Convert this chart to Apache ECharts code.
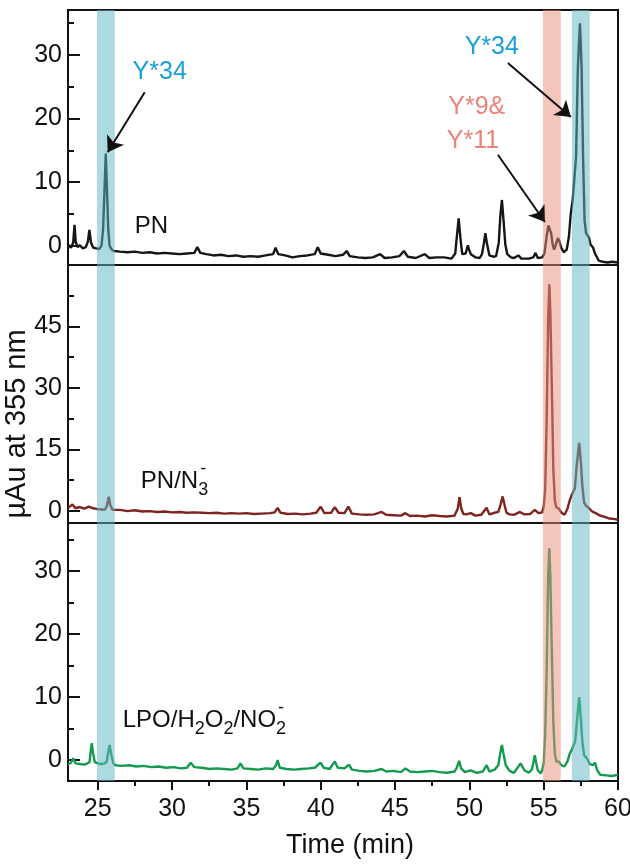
<!DOCTYPE html>
<html>
<head>
<meta charset="utf-8">
<script src="https://cdn.jsdelivr.net/npm/echarts@6/dist/echarts.min.js"></script>
<style>
html,body{margin:0;padding:0;background:#fff;}
#c{width:630px;height:868px;}
</style>
</head>
<body>
<div id="c"></div>
<script>
// ---------- data (time in min, absorbance in µAu) ----------
const X_MIN = 23, X_MAX = 60;
const xMajorTicks = [25, 30, 35, 40, 45, 50, 55, 60];
const xMinorTicks = [27.5, 32.5, 37.5, 42.5, 47.5, 52.5, 57.5];

const yRangePN = [-3, 37];
const yMajorPN = [0, 10, 20, 30];
const yMinorPN = [5, 15, 25, 35];

const yRangeN3 = [-3, 60];
const yMajorN3 = [0, 15, 30, 45];
const yMajorTicksN3 = [0, 15, 30, 45, 60];
const yMinorN3 = [7.5, 22.5, 37.5, 52.5];

const yRangeLPO = [-3.3, 37.6];
const yMajorLPO = [0, 10, 20, 30];
const yMinorLPO = [5, 15, 25, 35];

const bandsBlue = [[24.95, 26.15], [56.9, 58.1]];
const bandsPink = [[54.95, 56.15]];

const tracePN = [[23.0,0.2],[23.2,-0.3],[23.35,0.5],[23.44,3.3],[23.52,0.6],[23.65,-0.2],[23.8,0.1],[24.0,-0.4],[24.2,-0.2],[24.33,0.6],[24.44,2.5],[24.55,0.5],[24.7,-0.3],[24.9,-0.4],[25.1,-0.5],[25.25,0],[25.36,2.5],[25.46,9],[25.54,14.5],[25.62,9],[25.71,2.5],[25.8,0],[25.95,-0.6],[26.1,-0.8],[26.5,-0.9],[27.0,-1.0],[27.5,-0.9],[28.0,-1.1],[28.5,-1.0],[29.0,-1.2],[29.5,-1.1],[30.0,-1.2],[30.5,-1.3],[31.0,-1.2],[31.5,-1.1],[31.7,-0.2],[31.9,-1.1],[32.3,-1.3],[32.8,-1.5],[33.3,-1.4],[33.8,-1.6],[34.3,-1.5],[34.8,-1.7],[35.3,-1.6],[35.8,-1.7],[36.3,-1.5],[36.8,-1.3],[36.96,-0.3],[37.15,-1.3],[37.6,-1.5],[38.1,-1.8],[38.6,-1.6],[39.1,-1.5],[39.6,-1.3],[39.8,-0.2],[40.0,-1.2],[40.5,-1.4],[41.0,-1.6],[41.5,-1.4],[41.75,-0.8],[41.95,-1.6],[42.5,-1.8],[43.0,-1.9],[43.5,-1.8],[44.0,-1.3],[44.3,-1.9],[44.8,-1.8],[45.3,-1.6],[45.6,-0.8],[45.85,-1.7],[46.4,-1.9],[47.0,-1.3],[47.3,-1.9],[47.8,-1.8],[48.3,-1.8],[48.8,-2.0],[49.05,-1.2],[49.16,1.5],[49.28,4.3],[49.4,1.2],[49.52,-1.3],[49.75,-1.2],[49.82,-0.6],[49.9,0.1],[49.98,-0.6],[50.1,-1.3],[50.4,-1.8],[50.7,-1.9],[50.85,-1.3],[50.97,0.3],[51.08,2.0],[51.18,0.4],[51.35,-1.5],[51.6,-1.7],[51.8,-1.6],[51.98,0.5],[52.08,4.5],[52.19,7.2],[52.3,4.0],[52.42,0.2],[52.55,-1.3],[52.8,-1.8],[53.0,-1.9],[53.3,-1.5],[53.5,-2.0],[54.0,-2.0],[54.3,-1.8],[54.45,-1.1],[54.6,-1.9],[54.9,-1.8],[55.05,-1.2],[55.2,1.5],[55.32,3.2],[55.4,3.4],[55.5,2],[55.6,0.3],[55.7,-0.6],[55.82,0.2],[55.95,1.2],[56.05,0.8],[56.18,-0.3],[56.35,-1.0],[56.55,-0.6],[56.7,1.5],[56.82,5],[56.95,7.2],[57.07,7.5],[57.18,14],[57.3,28],[57.44,34.9],[57.55,28],[57.65,14],[57.75,4],[57.85,2],[57.95,1.8],[58.05,1.3],[58.15,0.2],[58.33,-0.3],[58.45,-1.2],[58.7,-2.3],[59.0,-2.5],[59.3,-2.6],[59.6,-2.5],[60.0,-2.6]];

const traceN3 = [[23.0,0.7],[23.3,1.5],[23.5,0.6],[23.8,0.9],[24.1,0.5],[24.4,1.0],[24.7,0.6],[25.0,0.4],[25.3,0.3],[25.5,0.3],[25.62,1.2],[25.74,3.4],[25.85,1.3],[26.0,0.2],[26.1,0.1],[26.5,0.2],[27.0,-0.1],[27.5,0.1],[28.0,-0.2],[28.5,-0.1],[29.0,-0.3],[29.5,-0.2],[30.0,-0.4],[30.5,-0.3],[31.0,-0.5],[31.5,-0.4],[32.0,-0.5],[32.5,-0.6],[33.0,-0.5],[33.5,-0.7],[34.0,-0.6],[34.5,-0.7],[35.0,-0.6],[35.5,-0.8],[36.0,-0.7],[36.6,-0.6],[36.9,-0.4],[37.1,0.7],[37.3,-0.5],[37.8,-0.8],[38.3,-0.7],[38.8,-0.9],[39.3,-0.7],[39.7,-0.5],[39.99,1.0],[40.25,-0.6],[40.7,-0.5],[40.95,0.9],[41.2,-0.5],[41.6,-0.6],[41.86,1.0],[42.1,-0.7],[42.6,-0.9],[43.1,-1.0],[43.6,-0.9],[44.1,-0.3],[44.4,-1.0],[44.9,-1.1],[45.4,-1.2],[45.7,-0.6],[46.0,-1.3],[46.5,-1.2],[47.0,-1.4],[47.5,-1.1],[48.0,-1.3],[48.5,-1.4],[49.0,-1.2],[49.1,-1.2],[49.22,0.5],[49.34,3.3],[49.45,0.6],[49.6,-0.8],[49.8,-0.9],[50.1,-0.6],[50.4,-1.2],[50.8,-1.0],[51.16,0.7],[51.35,-0.9],[51.7,-0.5],[51.95,-0.3],[52.1,1.5],[52.24,3.5],[52.36,1.5],[52.5,-0.5],[52.7,-0.9],[53.0,-1.0],[53.4,-0.3],[53.7,-0.9],[54.1,-0.8],[54.4,0.2],[54.65,-0.6],[54.9,-0.4],[55.0,1],[55.1,5],[55.2,22],[55.3,46],[55.38,55.3],[55.45,48],[55.55,30],[55.65,10],[55.75,2.5],[55.85,0.8],[56.0,0.6],[56.2,-0.5],[56.4,-1.0],[56.6,0.5],[56.75,2.5],[56.88,3.8],[56.98,4],[57.1,5.5],[57.22,11],[57.39,16.6],[57.5,12],[57.6,6],[57.72,2],[57.85,1.2],[58.0,0.8],[58.15,0.2],[58.3,-0.3],[58.5,-0.6],[58.8,-1.2],[59.1,-1.5],[59.4,-1.9],[59.7,-2.0],[60.0,-2.2]];

const traceLPO = [[23.0,-0.7],[23.2,-0.4],[23.35,0.3],[23.5,-0.5],[23.8,-0.6],[24.1,-0.7],[24.3,-0.5],[24.45,-0.3],[24.53,1.5],[24.6,2.7],[24.68,1.2],[24.8,-0.3],[25.0,-0.5],[25.2,-0.6],[25.45,-0.5],[25.6,-0.3],[25.7,1.2],[25.8,2.4],[25.9,1.0],[26.05,-0.5],[26.2,-0.8],[26.6,-0.9],[27.1,-0.8],[27.6,-1.0],[28.1,-0.9],[28.6,-1.1],[29.1,-1.0],[29.6,-1.2],[30.1,-1.1],[30.6,-1.3],[31.0,-1.2],[31.25,-0.4],[31.5,-1.1],[32.0,-1.2],[32.5,-1.4],[33.0,-1.3],[33.5,-1.4],[34.0,-1.5],[34.4,-1.3],[34.6,-0.5],[34.8,-1.3],[35.3,-1.4],[35.8,-1.5],[36.3,-1.3],[36.8,-1.4],[37.0,-0.8],[37.1,0.0],[37.25,-1.2],[37.7,-1.4],[38.2,-1.5],[38.7,-1.4],[39.2,-1.3],[39.6,-1.2],[39.99,-0.4],[40.2,-1.2],[40.6,-1.4],[40.95,-0.2],[41.15,-1.2],[41.6,-1.3],[41.9,-0.7],[42.1,-1.5],[42.6,-1.7],[43.1,-1.8],[43.6,-1.7],[44.1,-1.4],[44.4,-1.8],[44.9,-1.7],[45.4,-1.9],[45.7,-1.3],[46.0,-1.8],[46.5,-1.9],[47.0,-1.8],[47.5,-1.7],[48.0,-1.9],[48.5,-2.0],[49.0,-1.8],[49.15,-1.2],[49.31,-0.1],[49.45,-1.3],[49.7,-1.9],[50.1,-1.6],[50.5,-2.0],[50.9,-1.8],[51.16,-0.8],[51.35,-1.8],[51.7,-1.5],[51.95,-0.8],[52.07,1],[52.19,2.4],[52.3,1],[52.45,-0.8],[52.7,-1.7],[53.0,-2.0],[53.45,-0.5],[53.7,-1.6],[54.0,-2.0],[54.2,-1.5],[54.3,-0.5],[54.4,0.8],[54.5,-0.5],[54.6,-1.6],[54.8,-2.1],[54.9,-1.6],[55.0,-0.5],[55.1,4],[55.2,14],[55.3,29],[55.38,33.6],[55.45,29],[55.55,17],[55.65,6],[55.75,1],[55.85,-0.2],[56.0,-0.2],[56.2,-0.8],[56.4,-1.0],[56.6,-0.2],[56.75,1.0],[56.88,1.6],[57.0,1.4],[57.12,3],[57.25,6.5],[57.39,10],[57.5,6.5],[57.6,3],[57.72,0.8],[57.9,0.3],[58.1,-0.6],[58.3,-0.8],[58.45,-0.4],[58.6,-1.6],[58.8,-2.3],[59.2,-2.4],[59.6,-2.5],[60.0,-2.3]];

// annotation arrows in panel-1 data coordinates: [t0, v0, t1, v1]
const arrowsPN = [[28.16, 24.1, 25.67, 14.7], [52.59, 28.7, 56.83, 20.2], [51.92, 14.3, 55.08, 3.75]];
// annotation texts in panel-1 data coordinates
const labelTextsPN = ['Y*34', 'Y*34', 'Y*9&', 'Y*11'];
const labelPosPN = [[29.17, 27.3], [51.51, 31.2], [50.5, 21.8], [50.24, 16.5]];
const labelKinds = ['blue', 'blue', 'pink', 'pink'];

// ---------- styling ----------
const FONT = "'Liberation Sans', Arial, Helvetica, sans-serif";
const INK = '#111';
const BLUE_TXT = '#1a9fd6';
const PINK_TXT = '#e8847a';
const BAND_BLUE = 'rgba(100,182,196,0.52)';
const BAND_PINK = 'rgba(232,140,120,0.5)';
const COLORS = ['#161616', '#7d2420', '#149a4e'];

const grids = [
  {left: 68, right: 12, top: 10, height: 255},
  {left: 68, right: 12, top: 265, height: 258},
  {left: 68, right: 12, top: 523, height: 258}
].map(g => Object.assign(g, {show: true, borderColor: INK, borderWidth: 2, backgroundColor: 'transparent',
  containLabel: false, outerBoundsMode: 'none'}));

const hiddenX = g => ({type: 'value', gridIndex: g, position: 'bottom', min: X_MIN, max: X_MAX,
  splitLine: {show: false}, axisLine: {show: false, onZero: false}, axisTick: {show: false}, axisLabel: {show: false}});

const xAxes = [
  hiddenX(0), hiddenX(1),
  Object.assign(hiddenX(2), {
    axisLine: {show: true, onZero: false, lineStyle: {color: INK, width: 2}},
    axisTick: {show: true, inside: false, length: 9, customValues: xMajorTicks, lineStyle: {color: INK, width: 2}},
    axisLabel: {show: true, customValues: xMajorTicks, margin: 16, fontSize: 25, color: INK, fontFamily: FONT}
  }),
  Object.assign(hiddenX(2), {
    axisTick: {show: true, inside: false, length: 5, customValues: xMinorTicks, lineStyle: {color: INK, width: 2}}
  })
];

function mainY(g, range, labels, ticks) {
  return {type: 'value', gridIndex: g, position: 'left', min: range[0], max: range[1], splitLine: {show: false},
    axisLine: {show: true, onZero: false, lineStyle: {color: INK, width: 2}},
    axisTick: {show: true, inside: true, length: 12, customValues: ticks, lineStyle: {color: INK, width: 2}},
    axisLabel: {show: true, customValues: labels, margin: 6, fontSize: 25, color: INK, fontFamily: FONT}};
}
function minorY(g, range, ticks) {
  return {type: 'value', gridIndex: g, position: 'left', min: range[0], max: range[1], splitLine: {show: false},
    axisLine: {show: false, onZero: false}, axisLabel: {show: false},
    axisTick: {show: true, inside: true, length: 6, customValues: ticks, lineStyle: {color: INK, width: 2}}};
}
const yAxes = [
  mainY(0, yRangePN, yMajorPN, yMajorPN),
  mainY(1, yRangeN3, yMajorN3, yMajorTicksN3),
  mainY(2, yRangeLPO, yMajorLPO, yMajorLPO),
  minorY(0, yRangePN, yMinorPN),
  minorY(1, yRangeN3, yMinorN3),
  minorY(2, yRangeLPO, yMinorLPO)
];

const bandData = bandsBlue.map(b => [{xAxis: b[0], itemStyle: {color: BAND_BLUE}}, {xAxis: b[1]}])
  .concat(bandsPink.map(b => [{xAxis: b[0], itemStyle: {color: BAND_PINK}}, {xAxis: b[1]}]));

const traces = [tracePN, traceN3, traceLPO];
const series = traces.map((d, i) => ({
  type: 'line', xAxisIndex: i, yAxisIndex: i, data: d, showSymbol: false, smooth: false,
  lineStyle: {color: COLORS[i], width: 2.4}, silent: true, z: 2,
  markArea: {silent: true, z: 5, data: bandData, label: {show: false}}
}));
series[0].markLine = {
  silent: true, z: 7, symbol: ['none', 'arrow'], symbolSize: 15, label: {show: false},
  lineStyle: {color: INK, width: 2, type: 'solid'},
  data: arrowsPN.map(a => [{coord: [a[0], a[1]]}, {coord: [a[2], a[3]]}])
};

const chart = echarts.init(document.getElementById('c'), null, {renderer: 'canvas', width: 630, height: 868});
chart.setOption({
  animation: false,
  backgroundColor: '#fff',
  grid: grids,
  xAxis: xAxes,
  yAxis: yAxes,
  series: series
});

// ---------- text annotations ----------
const ctx = document.createElement('canvas').getContext('2d');
function tw(txt, size) { ctx.font = size + 'px ' + FONT; return ctx.measureText(txt).width; }
function px(g, t, v) { return chart.convertToPixel({xAxisIndex: g, yAxisIndex: g}, [t, v]); }
function txt(x, y, s, size, color, align, extra) {
  return Object.assign({type: 'text', x: x, y: y, z: 100, silent: true,
    style: {text: s, fill: color, font: size + 'px ' + FONT, textAlign: align || 'left',
      textVerticalAlign: 'middle', verticalAlign: 'middle'}}, extra || {});
}
const elements = [];
labelTextsPN.forEach((s, i) => {
  const p = px(0, labelPosPN[i][0], labelPosPN[i][1]);
  elements.push(txt(p[0], p[1], s, 25, labelKinds[i] === 'blue' ? BLUE_TXT : PINK_TXT, 'center'));
});
// chemical labels: pieces [text, kind] kind: n normal, s subscript, sp sub+sup minus
function chem(g, t, v, pieces) {
  const p = px(g, t, v);
  let x = p[0];
  const MAIN = 24, SUB = 18;
  pieces.forEach(pc => {
    if (pc[1] === 'n') { elements.push(txt(x, p[1], pc[0], MAIN, INK)); x += tw(pc[0], MAIN); }
    else {
      elements.push(txt(x, p[1] + 9, pc[0], SUB, INK));
      if (pc[1] === 'sp') elements.push(txt(x + tw(pc[0], SUB) / 2, p[1] - 12, '-', SUB, INK, 'center'));
      x += tw(pc[0], SUB);
    }
  });
}
chem(0, 27.49, 3.1, [['PN', 'n']]);
chem(1, 27.9, 7.2, [['PN/N', 'n'], ['3', 'sp']]);
chem(2, 26.68, 6.3, [['LPO/H', 'n'], ['2', 's'], ['O', 'n'], ['2', 's'], ['/NO', 'n'], ['2', 'sp']]);
// axis titles
elements.push(txt(17, 424, 'µAu at 355 nm', 29, INK, 'center', {rotation: Math.PI / 2}));
elements.push(txt(350, 846, 'Time (min)', 27, INK, 'center'));
chart.setOption({graphic: elements});
</script>
</body>
</html>
